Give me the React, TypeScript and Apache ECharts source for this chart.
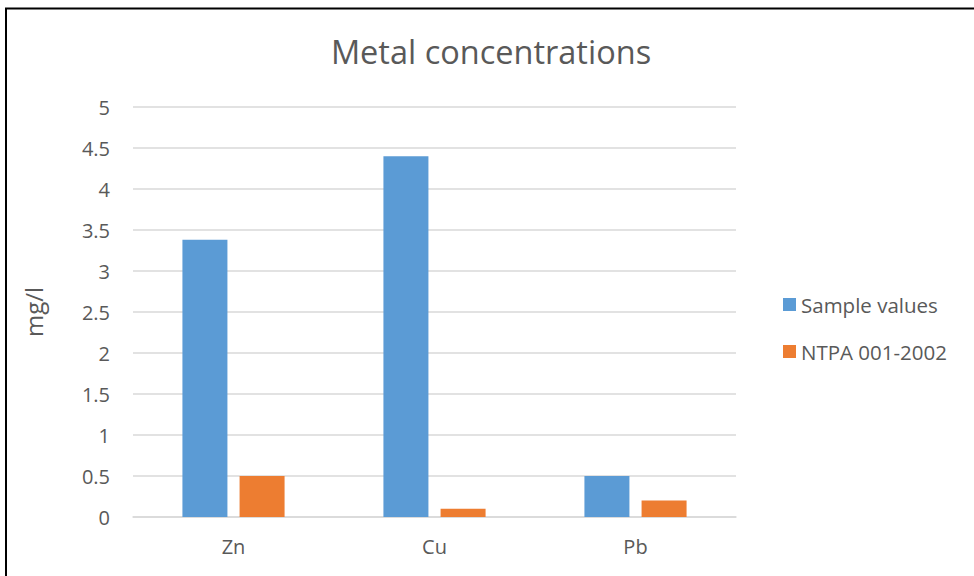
import React, { useEffect, useRef } from "react";
import * as echarts from "echarts";

const categories = ["Zn", "Cu", "Pb"];
const sampleValues = [3.38, 4.4, 0.5];
const ntpaValues = [0.5, 0.1, 0.2];
const seriesNames = ["Sample values", "NTPA 001-2002"];

const FONT = "'Open Sans', sans-serif";
const TEXT = "#595959";

export default function App() {
  const ref = useRef<HTMLDivElement>(null);
  useEffect(() => {
    if (!ref.current) return;
    const chart = echarts.init(ref.current, null, { renderer: "svg" });
    chart.setOption({
      animation: false,
      backgroundColor: "#ffffff",
      title: {
        text: "Metal concentrations",
        left: 486,
        textAlign: "center",
        top: 30,
        textStyle: { fontFamily: FONT, fontSize: 32.5, fontWeight: "normal", color: TEXT },
      },
      legend: {
        orient: "vertical",
        left: 778,
        top: 289,
        itemWidth: 13,
        itemHeight: 13,
        itemGap: 26,
        icon: "rect",
        data: seriesNames,
        textStyle: { fontFamily: FONT, fontSize: 20.5, color: TEXT, lineHeight: 20 },
      },
      grid: { left: 133, right: 238, top: 107, bottom: 59, containLabel: false },
      xAxis: {
        type: "category",
        data: categories,
        axisLine: { lineStyle: { color: "#D9D9D9", width: 1.5 } },
        axisTick: { show: false },
        axisLabel: { fontFamily: FONT, fontSize: 20, color: TEXT, margin: 19 },
      },
      yAxis: {
        type: "value",
        min: 0,
        max: 5,
        interval: 0.5,
        name: "mg/l",
        nameLocation: "middle",
        nameRotate: 90,
        nameGap: 88,
        nameTextStyle: { fontFamily: FONT, fontSize: 24, color: TEXT },
        axisLine: { show: false },
        axisTick: { show: false },
        splitLine: { lineStyle: { color: "#D9D9D9", width: 1.5 } },
        axisLabel: { fontFamily: FONT, fontSize: 20, color: TEXT, margin: 23 },
      },
      series: [
        {
          name: seriesNames[0],
          type: "bar",
          data: sampleValues,
          barWidth: 45,
          barGap: "27%",
          itemStyle: { color: "#5B9BD5" },
        },
        {
          name: seriesNames[1],
          type: "bar",
          data: ntpaValues,
          barWidth: 45,
          barGap: "27%",
          itemStyle: { color: "#ED7D31" },
        },
      ],
      graphic: [
        {
          type: "rect",
          shape: { x: 6, y: 8.5, width: 1200, height: 1200 },
          style: { fill: "none", stroke: "#000000", lineWidth: 2 },
          silent: true,
        },
      ],
    });
    return () => chart.dispose();
  }, []);
  return (
    <div
      ref={ref}
      style={{ position: "fixed", left: 0, top: 0, width: 974, height: 576 }}
    />
  );
}
